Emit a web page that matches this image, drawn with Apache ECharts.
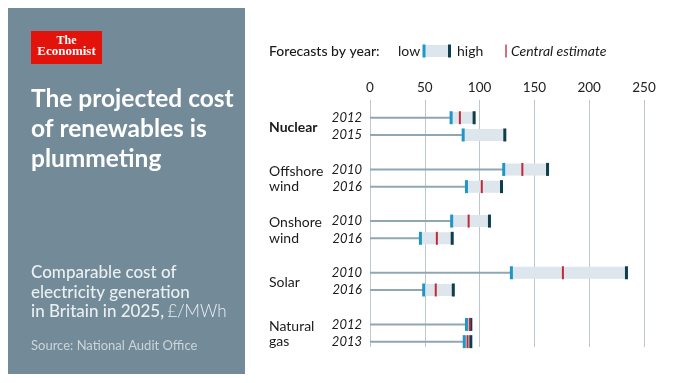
<!DOCTYPE html>
<html>
<head>
<meta charset="utf-8">
<script src="https://cdn.jsdelivr.net/npm/echarts@6/dist/echarts.min.js"></script>
<style>
  html, body { margin: 0; padding: 0; background: #ffffff; }
  #chart { width: 680px; height: 383px; }
</style>
</head>
<body>
<div id="chart"></div>
<script>
// ---- data ----
const groups = ['Nuclear', 'Offshore\nwind', 'Onshore\nwind', 'Solar', 'Natural\ngas'];
const years = [['2012', '2015'], ['2010', '2016'], ['2010', '2016'], ['2010', '2016'], ['2012', '2013']];
const lows = [[74, 85], [122, 88], [74.5, 46], [129, 49], [88, 86]];
const centrals = [[82, null], [139, 102], [90, 61], [176, 60], [91, 89]];
const highs = [[95, 123], [162, 120], [109, 75], [234, 76], [92, 92]];
const xTicks = [0, 50, 100, 150, 200, 250];
const boldGroup = 'Nuclear';

// ---- build rows ----
const rows = [];
groups.forEach(function (g, gi) {
  years[gi].forEach(function (yr, j) {
    rows.push({
      row: gi * 3 + j,
      low: lows[gi][j],
      central: centrals[gi][j],
      high: highs[gi][j],
      year: yr,
      group: j === 0 ? g : null
    });
  });
});
const seriesData = rows.map(function (r) {
  return [r.row, r.low, r.central == null ? NaN : r.central, r.high];
});

const FONT = 'Lato';
const C_LINE = '#8fa7b5';
const C_BOX = '#dce6ec';
const C_LOW = '#1f96c6';
const C_HIGH = '#0e3d4c';
const C_CEN = '#c3283a';

function renderItem(params, api) {
  const r = rows[params.dataIndex];
  const row = api.value(0);
  const low = api.value(1);
  const cen = api.value(2);
  const high = api.value(3);
  const p0 = api.coord([0, row]);
  const pl = api.coord([low, row]);
  const ph = api.coord([high, row]);
  const y = p0[1];
  const children = [
    { type: 'line', shape: { x1: p0[0], y1: y, x2: pl[0], y2: y }, style: { stroke: C_LINE, lineWidth: 2 } },
    { type: 'rect', shape: { x: pl[0], y: y - 6, width: ph[0] - pl[0], height: 12 }, style: { fill: C_BOX } },
    { type: 'rect', shape: { x: pl[0] - 1.5, y: y - 6.5, width: 3, height: 13 }, style: { fill: C_LOW } },
    { type: 'rect', shape: { x: ph[0] - 1.5, y: y - 6.5, width: 3, height: 13 }, style: { fill: C_HIGH } }
  ];
  if (!isNaN(cen)) {
    const pc = api.coord([cen, row]);
    children.push({ type: 'rect', shape: { x: pc[0] - 1, y: y - 6.5, width: 2, height: 13 }, style: { fill: C_CEN } });
  }
  // year label
  children.push({
    type: 'text',
    style: {
      x: p0[0] - 8, y: y, text: r.year, align: 'right', verticalAlign: 'middle',
      font: 'italic 13px ' + FONT, fill: '#1a1a1a'
    }
  });
  if (r.group) {
    const pm = api.coord([0, row + 0.5]);
    children.push({
      type: 'text',
      style: {
        x: 269, y: pm[1] + 1, text: r.group, align: 'left', verticalAlign: 'middle',
        fontFamily: FONT, fontSize: 14, lineHeight: 15.5,
        fontWeight: r.group === boldGroup ? 'bold' : 'normal', fill: '#1a1a1a'
      }
    });
  }
  return { type: 'group', children: children };
}

const chart = echarts.init(document.getElementById('chart'), null, { renderer: 'canvas' });

const graphics = [
  // left panel
  { type: 'rect', shape: { x: 8, y: 8, width: 237, height: 366 }, style: { fill: '#738a98' } },
  { type: 'rect', shape: { x: 31, y: 31, width: 71, height: 33 }, style: { fill: '#e3120b' } },
  { type: 'text', style: { x: 66.5, y: 40.5, text: 'The', align: 'center', verticalAlign: 'middle', font: 'bold 12px "Liberation Serif"', fill: '#ffffff' } },
  { type: 'text', style: { x: 66.5, y: 51.5, text: 'Economist', align: 'center', verticalAlign: 'middle', font: 'bold 13px "Liberation Serif"', fill: '#ffffff' } },
  { type: 'text', style: { x: 31, y: 84, text: 'The projected cost\nof renewables is\nplummeting', align: 'left', verticalAlign: 'top',
      fontFamily: FONT, fontWeight: 'bold', fontSize: 24.5, lineHeight: 30, fill: '#ffffff' } },
  { type: 'text', style: { x: 31, y: 263, text: '{a|Comparable cost of}\n{a|electricity generation}\n{a|in Britain in 2025,} {b|£/MWh}', align: 'left', verticalAlign: 'top',
      rich: {
        a: { fontFamily: FONT, fontSize: 17, lineHeight: 19.5, fill: '#eaeff2', fontWeight: 500 },
        b: { fontFamily: FONT, fontSize: 17, lineHeight: 19.5, fill: '#eaeff2', fontWeight: 300 }
      } } },
  { type: 'text', style: { x: 31, y: 346, text: 'Source: National Audit Office', align: 'left', verticalAlign: 'middle', font: '13px ' + FONT, fill: '#cbd5db' } },
  // legend
  { type: 'text', style: { x: 269, y: 51, text: 'Forecasts by year:', align: 'left', verticalAlign: 'middle', font: '500 14px ' + FONT, fill: '#1a1a1a' } },
  { type: 'text', style: { x: 398, y: 51, text: 'low', align: 'left', verticalAlign: 'middle', font: '14px ' + FONT, fill: '#1a1a1a' } },
  { type: 'rect', shape: { x: 423, y: 45, width: 27, height: 12 }, style: { fill: C_BOX } },
  { type: 'rect', shape: { x: 422.5, y: 44.5, width: 3, height: 13 }, style: { fill: C_LOW } },
  { type: 'rect', shape: { x: 448, y: 44.5, width: 3, height: 13 }, style: { fill: C_HIGH } },
  { type: 'text', style: { x: 457, y: 51, text: 'high', align: 'left', verticalAlign: 'middle', font: '14px ' + FONT, fill: '#1a1a1a' } },
  { type: 'rect', shape: { x: 505, y: 44.5, width: 2, height: 13 }, style: { fill: '#d2707c' } },
  { type: 'text', style: { x: 511, y: 51, text: 'Central estimate', align: 'left', verticalAlign: 'middle', font: 'italic 14px ' + FONT, fill: '#1a1a1a' } }
];

const option = {
  animation: false,
  backgroundColor: '#ffffff',
  graphic: graphics,
  grid: { left: 370, right: 36, top: 100, bottom: 36 },
  xAxis: {
    type: 'value', position: 'top', min: xTicks[0], max: xTicks[xTicks.length - 1], interval: xTicks[1] - xTicks[0],
    axisLine: { show: false }, axisTick: { show: false },
    axisLabel: { margin: 5, fontFamily: FONT, fontSize: 13.5, color: '#222222' },
    splitLine: { show: true, lineStyle: { color: '#bcc7ce', width: 1 } }
  },
  yAxis: {
    type: 'value', inverse: true, min: -1.03, max: 13.31,
    show: false, splitLine: { show: false }
  },
  series: [{
    type: 'custom',
    renderItem: renderItem,
    encode: { x: [1, 2, 3], y: 0 },
    data: seriesData,
    clip: false
  }]
};
chart.setOption(option);
</script>
</body>
</html>
